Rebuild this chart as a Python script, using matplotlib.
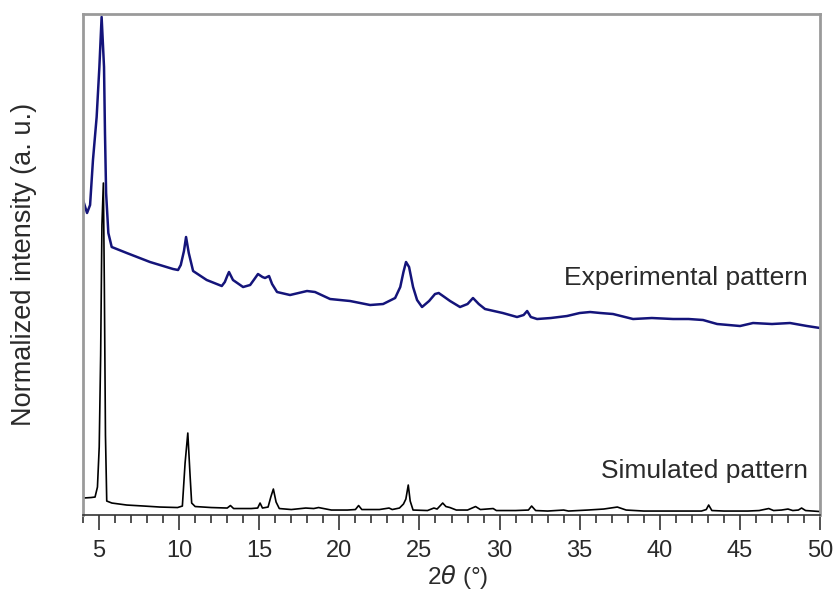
import matplotlib
matplotlib.use("Agg")
import matplotlib.pyplot as plt
from matplotlib.ticker import MultipleLocator

plt.rcParams['font.family'] = ['Liberation Sans', 'DejaVu Sans']

# experimental pattern (2theta, intensity in arbitrary units)
exp_x = [4.0, 4.25, 4.44, 4.62, 4.85, 5.02, 5.16, 5.31, 5.37, 5.44, 5.58, 5.79,
         6.73, 8.18, 9.62, 9.93, 10.1, 10.3, 10.43, 10.6, 10.87, 11.72, 12.66,
         12.85, 13.0, 13.11, 13.36, 13.99, 14.43, 14.7, 14.92, 15.2, 15.36,
         15.61, 15.8, 16.11, 16.92, 17.98, 18.48, 19.42, 20.67, 21.92, 22.73,
         23.48, 23.8, 24.0, 24.16, 24.35, 24.6, 24.85, 25.16, 25.6, 25.97,
         26.2, 26.47, 26.91, 27.53, 28.0, 28.34, 28.7, 29.09, 30.2, 31.09,
         31.5, 31.72, 31.95, 32.34, 33.2, 34.21, 35.0, 35.65, 36.3, 37.08,
         38.33, 39.5, 40.83, 41.8, 42.7, 43.58, 44.3, 45.01, 45.82, 47.0,
         48.13, 49.19, 50.0]
exp_y = [315, 302, 310, 355, 398, 448, 498, 448, 382, 322, 282, 268,
         262, 253, 246, 245, 250, 264, 278, 262, 244, 235, 229,
         233, 239, 243, 235, 228, 230, 236, 241, 238, 237,
         239, 231, 223, 220, 224, 223, 216, 214, 210, 211,
         217, 228, 243, 253, 248, 228, 215, 208, 214, 221,
         222, 219, 214, 208, 211, 217, 211, 206, 202, 198,
         200, 204, 198, 196, 197, 199, 202, 203, 202, 201,
         196, 197, 196, 196, 195, 191, 190, 189, 192, 191,
         192, 189, 187]

# simulated pattern
sim_x = [4.0, 4.5, 4.75, 4.9, 5.01, 5.1, 5.18, 5.27, 5.33, 5.4, 5.48, 5.8,
         6.73, 7.8, 8.8, 9.9, 10.2, 10.37, 10.54, 10.68, 10.78, 11.0, 12.0,
         13.0, 13.2, 13.4, 14.5, 14.9, 15.05, 15.2, 15.55, 15.72, 15.88,
         16.05, 16.25, 17.0, 17.6, 17.9, 18.4, 18.7, 19.5, 20.5, 21.0, 21.2,
         21.4, 22.5, 23.1, 23.3, 23.75, 24.0, 24.15, 24.3, 24.42, 24.6,
         25.5, 25.9, 26.1, 26.45, 26.65, 26.9, 27.3, 28.0, 28.5, 28.8,
         29.6, 29.8, 31.0, 31.8, 32.0, 32.25, 33.0, 34.0, 34.3, 35.5, 36.5,
         37.35, 37.9, 39.0, 41.0, 42.6, 42.9, 43.05, 43.25, 44.0, 45.5, 46.2,
         46.8, 47.1, 47.6, 48.0, 48.3, 48.65, 48.85, 49.1, 50.0]
sim_y = [17, 17.5, 18, 28, 68, 160, 290, 332, 230, 80, 14, 12,
         10, 9, 8, 7.5, 9, 52, 82, 40, 12, 8.5, 7.5,
         7, 9.5, 6.5, 6.5, 7, 12, 7, 8, 18, 26,
         13, 6.5, 5.5, 6.5, 7, 6.5, 7.5, 5, 5, 5.5, 9.5,
         5.5, 5.5, 7, 5.5, 7, 11, 16, 30, 14, 5,
         4.5, 7, 6, 12, 8.5, 7.5, 5, 5, 8.5, 5.5,
         6.5, 4.5, 4.5, 5, 9, 4.5, 4, 5, 4, 5, 6,
         8, 5, 4, 4, 4, 5.5, 10, 4.5, 4, 4, 4.5,
         6.5, 4.5, 5, 6, 4.5, 5, 7, 4.5, 3.5]

x_ticks = [5, 10, 15, 20, 25, 30, 35, 40, 45, 50]

fig = plt.figure(figsize=(8.37, 5.92), dpi=100)
ax = fig.add_axes([0.0992, 0.130, 0.8805, 0.8464])

ax.plot(exp_x, exp_y, color='#14147a', linewidth=1.8)
ax.plot(sim_x, sim_y, color='black', linewidth=1.2)

ax.text(49.25, 237, 'Experimental pattern', ha='right', va='center',
        fontsize=19, color='#2a2a2a')
ax.text(49.25, 44, 'Simulated pattern', ha='right', va='center',
        fontsize=19, color='#2a2a2a')

ax.set_xlim(4, 50)
ax.set_ylim(0, 501)
ax.set_xticks(x_ticks)
ax.xaxis.set_minor_locator(MultipleLocator(1))
ax.set_yticks([])

ax.tick_params(axis='x', which='major', direction='out', length=11, width=1.2,
               color='#333333', labelsize=17, labelcolor='#2a2a2a', pad=7)
ax.tick_params(axis='x', which='minor', direction='out', length=6, width=1.2,
               color='#333333')

for side in ['left', 'top', 'right']:
    ax.spines[side].set_color('#9a9a9a')
    ax.spines[side].set_linewidth(2)
ax.spines['bottom'].set_color('#333333')
ax.spines['bottom'].set_linewidth(1.2)

ax.set_xlabel(r'2$\it{\theta}$ (°)', fontsize=17.5, color='#2a2a2a')
ax.xaxis.set_label_coords(0.509, -0.096)
ax.set_ylabel('Normalized intensity (a. u.)', fontsize=19.5, color='#2a2a2a')
ax.yaxis.set_label_coords(-0.062, 0.5)

fig.savefig('out.png', dpi=100)
